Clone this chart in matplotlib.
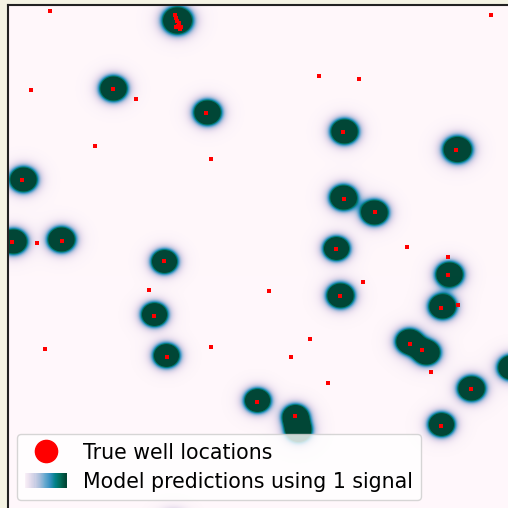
import numpy as np
import matplotlib
matplotlib.use("Agg")
import matplotlib.pyplot as plt
from matplotlib.lines import Line2D
from matplotlib.patches import Rectangle
from matplotlib.legend_handler import HandlerBase

# ---- data (image pixel coordinates) ----
blob_x = [177, 113, 207, 344, 457, 23, 343, 374, 13, 61, 336, 164, 449, 340, 442,
          154, 166, 409, 426, 511, 471, 257, 295, 298, 441, 173]
blob_y = [21, 89, 113, 132, 150, 180, 198, 213, 242, 240, 249, 262, 275, 296, 307,
          315, 356, 342, 353, 368, 389, 401, 417, 431, 425, 527]
blob_scale = [1.1, 1.0, 1.0, 1.0, 1.05, 1.0, 1.0, 1.0, 1.0, 1.0, 0.95, 0.95, 1.0, 1.0, 1.0,
              0.95, 0.95, 1.0, 1.0, 1.0, 1.0, 0.95, 0.95, 0.95, 0.95, 1.0]

well_x = [50, 491, 31, 136, 319, 359, 95, 211, 37, 407, 448, 363, 149, 269, 458, 45,
          211, 310, 291, 431, 328,
          175, 176, 177, 179, 178, 181, 176, 180,
          113, 206, 343, 456, 22, 344, 375, 12, 62, 336, 164, 448, 340, 441, 154,
          167, 410, 422, 471, 257, 295, 441]
well_y = [11, 15, 90, 99, 76, 79, 146, 159, 243, 247, 257, 282, 290, 291, 305, 349,
          347, 339, 357, 372, 383,
          15, 18, 21, 23, 26, 27, 27, 29,
          89, 113, 132, 150, 180, 199, 212, 242, 241, 249, 261, 275, 296, 308, 316,
          357, 344, 350, 389, 402, 416, 426]

labels = ["True well locations", "Model predictions using 1 signal"]

W = H = 508
x0, y0 = 7.5, 4.5       # axes left / top edge in pixels
x1, y1 = 522.0, 522.0   # axes right / bottom (cropped)

fig = plt.figure(figsize=(W / 100, H / 100), dpi=100, facecolor="#f5f4e4")
ax = fig.add_axes([x0 / W, 1 - y1 / H, (x1 - x0) / W, (y1 - y0) / H])

gx = np.arange(x0, x1, 1.0) + 0.5
gy = np.arange(y0, y1 + 20, 1.0) + 0.5
XX, YY = np.meshgrid(gx, gy)
Z = np.zeros_like(XX)
amp, sx, sy = 3.6, 7.6, 6.9
for cx, cy, s in zip(blob_x, blob_y, blob_scale):
    r2 = (XX - cx) ** 2 / (2 * (sx * s) ** 2) + (YY - cy) ** 2 / (2 * (sy * s) ** 2)
    Z += amp * np.exp(-r2) + 0.16 * np.exp(-r2 / 3.2)

ax.imshow(Z, cmap="PuBuGn", vmin=0, vmax=1, extent=(x0, x1, y1 + 20, y0),
          interpolation="bilinear", aspect="auto", origin="upper")
ax.scatter(well_x, well_y, s=10, marker="s", color="red", linewidths=0, zorder=3)
ax.set_xlim(x0, x1)
ax.set_ylim(y1, y0)
ax.set_xticks([])
ax.set_yticks([])
for sp in ax.spines.values():
    sp.set_linewidth(1.5)
    sp.set_color("#222222")


class GradientHandle:
    pass


class HandlerGradient(HandlerBase):
    def create_artists(self, legend, orig_handle, xdescent, ydescent, width, height, fontsize, trans):
        n = 40
        cmap = plt.get_cmap("PuBuGn")
        arts = []
        for i in range(n):
            r = Rectangle((-xdescent + i * width / n, -ydescent), width / n + 0.3, height,
                          facecolor=cmap(0.05 + 0.95 * i / (n - 1)), edgecolor="none",
                          transform=trans)
            arts.append(r)
        return arts


h1 = Line2D([], [], marker="o", color="red", linestyle="", markersize=16)
h2 = GradientHandle()
leg = ax.legend([h1, h2], labels, handler_map={GradientHandle: HandlerGradient()},
                loc="lower left", bbox_to_anchor=(17 / W, 8 / H), bbox_transform=fig.transFigure,
                borderaxespad=0, fontsize=14.8, handlelength=2.0, handleheight=0.8,
                handletextpad=0.8, labelspacing=0.45, borderpad=0.4, framealpha=0.8)

fig.savefig("out.png", dpi=100, facecolor=fig.get_facecolor())
